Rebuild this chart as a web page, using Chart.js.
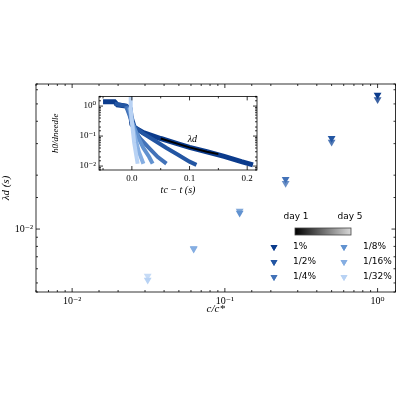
<!DOCTYPE html>
<html lang="en">
<head>
<meta charset="UTF-8">
<title>lambda_d vs c/c*</title>
<script src="https://cdn.jsdelivr.net/npm/chart.js"></script>
<style>
    body { margin: 0; background: #fff; }
    #wrap { position: relative; width: 400px; height: 400px; }
    #mainChart { position: absolute; left: 0; top: 0; }
    #insetChart { position: absolute; left: 50px; top: 88px; background: #fff; }
</style>
</head>
<body>
<div id="wrap">
    <canvas id="mainChart" width="400" height="400"></canvas>
    <canvas id="insetChart" width="212" height="115"></canvas>
</div>
<script>
// main plot data: concentration c/c* and lambda_d (s), two days each
const labels = ['1%', '1/2%', '1/4%', '1/8%', '1/16%', '1/32%'];
const colors = ['#0b3b8c', '#2356a3', '#4272b8', '#6192d0', '#85aee2', '#b8d2f4'];
const concentration = [1, 0.5, 0.25, 0.125, 0.0625, 0.03125];
const lambdaDay1 = [0.056, 0.0322, 0.0190, 0.0123, 0.00773, 0.00519];
const lambdaDay5 = [0.053, 0.0306, 0.0180, 0.0126, 0.00780, 0.00546];

// inset curves: t_c - t (s) and h0/d_needle
const insetX = [
    [-0.05, -0.03, -0.025, -0.01, -0.003, 0, 0.005, 0.02, 0.05, 0.08, 0.1, 0.13, 0.16, 0.19, 0.21],
    [-0.03, -0.01, 0, 0.005, 0.02, 0.04, 0.06, 0.08, 0.1, 0.112],
    [-0.01, 0, 0.005, 0.015, 0.03, 0.045, 0.06],
    [-0.005, 0, 0.01, 0.02, 0.03, 0.036],
    [-0.003, 0, 0.005, 0.012, 0.02],
    [-0.002, -0.002, 0, 0.004, 0.01]
];
const insetY = [
    [1.4, 1.4, 1.1, 1.0, 0.8, 0.25, 0.19, 0.13, 0.083, 0.055, 0.042, 0.03, 0.021, 0.014, 0.011],
    [1.2, 1.0, 0.4, 0.2, 0.12, 0.07, 0.04, 0.024, 0.014, 0.011],
    [1.0, 0.3, 0.15, 0.08, 0.04, 0.02, 0.012],
    [0.9, 0.3, 0.1, 0.04, 0.02, 0.012],
    [0.9, 0.3, 0.1, 0.03, 0.012],
    [2.2, 0.8, 0.3, 0.06, 0.012]
];
const insetTicksX = [-0.05, 0, 0.05, 0.1, 0.15, 0.2];
const fitX = [0.05, 0.08, 0.1, 0.13, 0.15];
const fitY = [0.083, 0.055, 0.042, 0.03, 0.025];

const serif = '"Liberation Serif", "DejaVu Serif", serif';
const sup = {'-': '⁻', '0': '⁰', '1': '¹', '2': '²'};
function powLabel(v) {
    const e = Math.round(Math.log10(v));
    if (Math.abs(Math.log10(v) - e) > 1e-6) return '';
    return '10' + String(e).split('').map(c => sup[c]).join('');
}

// inward ticks on all four sides
const inTicks = {
    id: 'inTicks',
    afterDraw(chart) {
        const ctx = chart.ctx, a = chart.chartArea;
        ctx.save();
        ctx.strokeStyle = '#000';
        ctx.lineWidth = 0.8;
        ctx.strokeRect(a.left, a.top, a.right - a.left, a.bottom - a.top);
        ['x', 'y'].forEach(id => {
            const s = chart.scales[id];
            s.ticks.forEach(t => {
                const major = s.type === 'logarithmic' ? powLabel(t.value) !== '' : Math.abs(t.value * 10 - Math.round(t.value * 10)) < 1e-6;
                const len = major ? 4 : 2;
                const p = s.getPixelForValue(t.value);
                ctx.beginPath();
                if (id === 'x') {
                    if (p < a.left - 0.5 || p > a.right + 0.5) return;
                    ctx.moveTo(p, a.bottom); ctx.lineTo(p, a.bottom - len);
                    ctx.moveTo(p, a.top); ctx.lineTo(p, a.top + len);
                } else {
                    if (p < a.top - 0.5 || p > a.bottom + 0.5) return;
                    ctx.moveTo(a.left, p); ctx.lineTo(a.left + len, p);
                    ctx.moveTo(a.right, p); ctx.lineTo(a.right - len, p);
                }
                ctx.stroke();
            });
        });
        ctx.restore();
    }
};

// legend with colour bar, drawn inside main plot
const legendPlugin = {
    id: 'customLegend',
    afterDraw(chart) {
        const ctx = chart.ctx;
        ctx.save();
        ctx.font = '9px "DejaVu Sans", sans-serif';
        ctx.fillStyle = '#000';
        ctx.textAlign = 'center';
        ctx.textBaseline = 'middle';
        ctx.fillText('day 1', 296, 217);
        ctx.fillText('day 5', 350, 217);
        const g = ctx.createLinearGradient(295, 0, 351, 0);
        g.addColorStop(0, '#000');
        g.addColorStop(1, '#d8d8d8');
        ctx.fillStyle = g;
        ctx.fillRect(295, 228, 56, 7);
        ctx.strokeStyle = '#444';
        ctx.lineWidth = 0.8;
        ctx.strokeRect(295, 228, 56, 7);
        ctx.textAlign = 'left';
        labels.forEach((lab, i) => {
            const col = Math.floor(i / 3), row = i % 3;
            const mx = col ? 344 : 274, ty = 247 + row * 15;
            ctx.fillStyle = colors[i];
            Chart.helpers.drawPoint(ctx, {pointStyle: 'triangle', radius: 4, rotation: 180, borderWidth: 0}, mx, ty);
            ctx.fill();
            ctx.fillStyle = '#000';
            ctx.fillText(lab, col ? 363 : 293, ty);
        });
        ctx.restore();
    }
};

const mainDatasets = [];
labels.forEach((lab, i) => {
    mainDatasets.push({
        label: lab,
        data: [{x: concentration[i], y: lambdaDay1[i]}, {x: concentration[i], y: lambdaDay5[i]}],
        backgroundColor: [colors[i], colors[i] + 'cc'],
        borderWidth: 0,
        pointStyle: 'triangle',
        rotation: 180,
        pointRadius: 4.5
    });
});

new Chart(document.getElementById('mainChart'), {
    type: 'scatter',
    data: { datasets: mainDatasets },
    options: {
        responsive: false,
        animation: false,
        layout: { padding: { top: 84, right: 1, left: 0, bottom: 84 } },
        plugins: { legend: { display: false }, tooltip: { enabled: false } },
        scales: {
            x: {
                type: 'logarithmic', min: 0.0058, max: 1.31,
                grid: { display: false, drawTicks: false }, border: { display: false },
                ticks: { autoSkip: false, maxRotation: 0, padding: 3, color: '#000', font: { family: serif, size: 10 },
                    callback: v => powLabel(v) },
                title: { display: true, text: 'c/c*', color: '#000', padding: 0, font: { family: serif, size: 11, style: 'italic' } },
                afterFit: s => { s.height = 24; }
            },
            y: {
                type: 'logarithmic', min: 0.00445, max: 0.0646,
                grid: { display: false, drawTicks: false }, border: { display: false },
                ticks: { autoSkip: false, padding: 3, color: '#000', font: { family: serif, size: 10 },
                    callback: v => powLabel(v) },
                title: { display: true, text: 'λd (s)', color: '#000', padding: 0, font: { family: serif, size: 11, style: 'italic' } },
                afterFit: s => { s.width = 36; }
            }
        }
    },
    plugins: [inTicks, legendPlugin]
});

const insetDatasets = insetX.map((xs, i) => ({
    data: xs.map((x, j) => ({x: x, y: insetY[i][j]})),
    borderColor: colors[i],
    borderWidth: i === 0 ? 5 : 4,
    pointRadius: 0,
    showLine: true,
    order: 6 - i
}));
insetDatasets.push({
    data: fitX.map((x, j) => ({x: x, y: fitY[j]})),
    borderColor: '#000', borderWidth: 2, pointRadius: 0, showLine: true, order: -1
});

const lambdaLabel = {
    id: 'lambdaLabel',
    afterDraw(chart) {
        const ctx = chart.ctx;
        ctx.save();
        ctx.font = 'italic 10px ' + serif;
        ctx.fillStyle = '#000';
        ctx.textAlign = 'center';
        ctx.textBaseline = 'middle';
        ctx.fillText('λd', chart.scales.x.getPixelForValue(0.105), chart.scales.y.getPixelForValue(0.075));
        ctx.restore();
    }
};

new Chart(document.getElementById('insetChart'), {
    type: 'scatter',
    data: { datasets: insetDatasets },
    options: {
        responsive: false,
        animation: false,
        layout: { padding: { top: 5, right: 5, left: 0, bottom: 7 } },
        plugins: { legend: { display: false }, tooltip: { enabled: false } },
        scales: {
            x: {
                type: 'linear', min: -0.057, max: 0.217,
                grid: { display: false, drawTicks: false }, border: { display: false },
                afterBuildTicks: s => { s.ticks = insetTicksX.map(v => ({value: v})); },
                ticks: { autoSkip: false, maxRotation: 0, padding: 3, color: '#000', font: { family: serif, size: 9 },
                    callback: v => (Math.abs(v * 10 - Math.round(v * 10)) < 1e-6 ? v.toFixed(1) : '') },
                title: { display: true, text: 'tc − t (s)', color: '#000', padding: 0, font: { family: serif, size: 10, style: 'italic' } },
                afterFit: s => { s.height = 26; }
            },
            y: {
                type: 'logarithmic', min: 0.0074, max: 2.1,
                grid: { display: false, drawTicks: false }, border: { display: false },
                ticks: { autoSkip: false, padding: 3, color: '#000', font: { family: serif, size: 9 },
                    callback: v => powLabel(v) },
                title: { display: true, text: 'h0/dneedle', color: '#000', padding: 0, font: { family: serif, size: 9, style: 'italic' } },
                afterFit: s => { s.width = 49; }
            }
        }
    },
    plugins: [inTicks, lambdaLabel]
});
</script>
</body>
</html>
